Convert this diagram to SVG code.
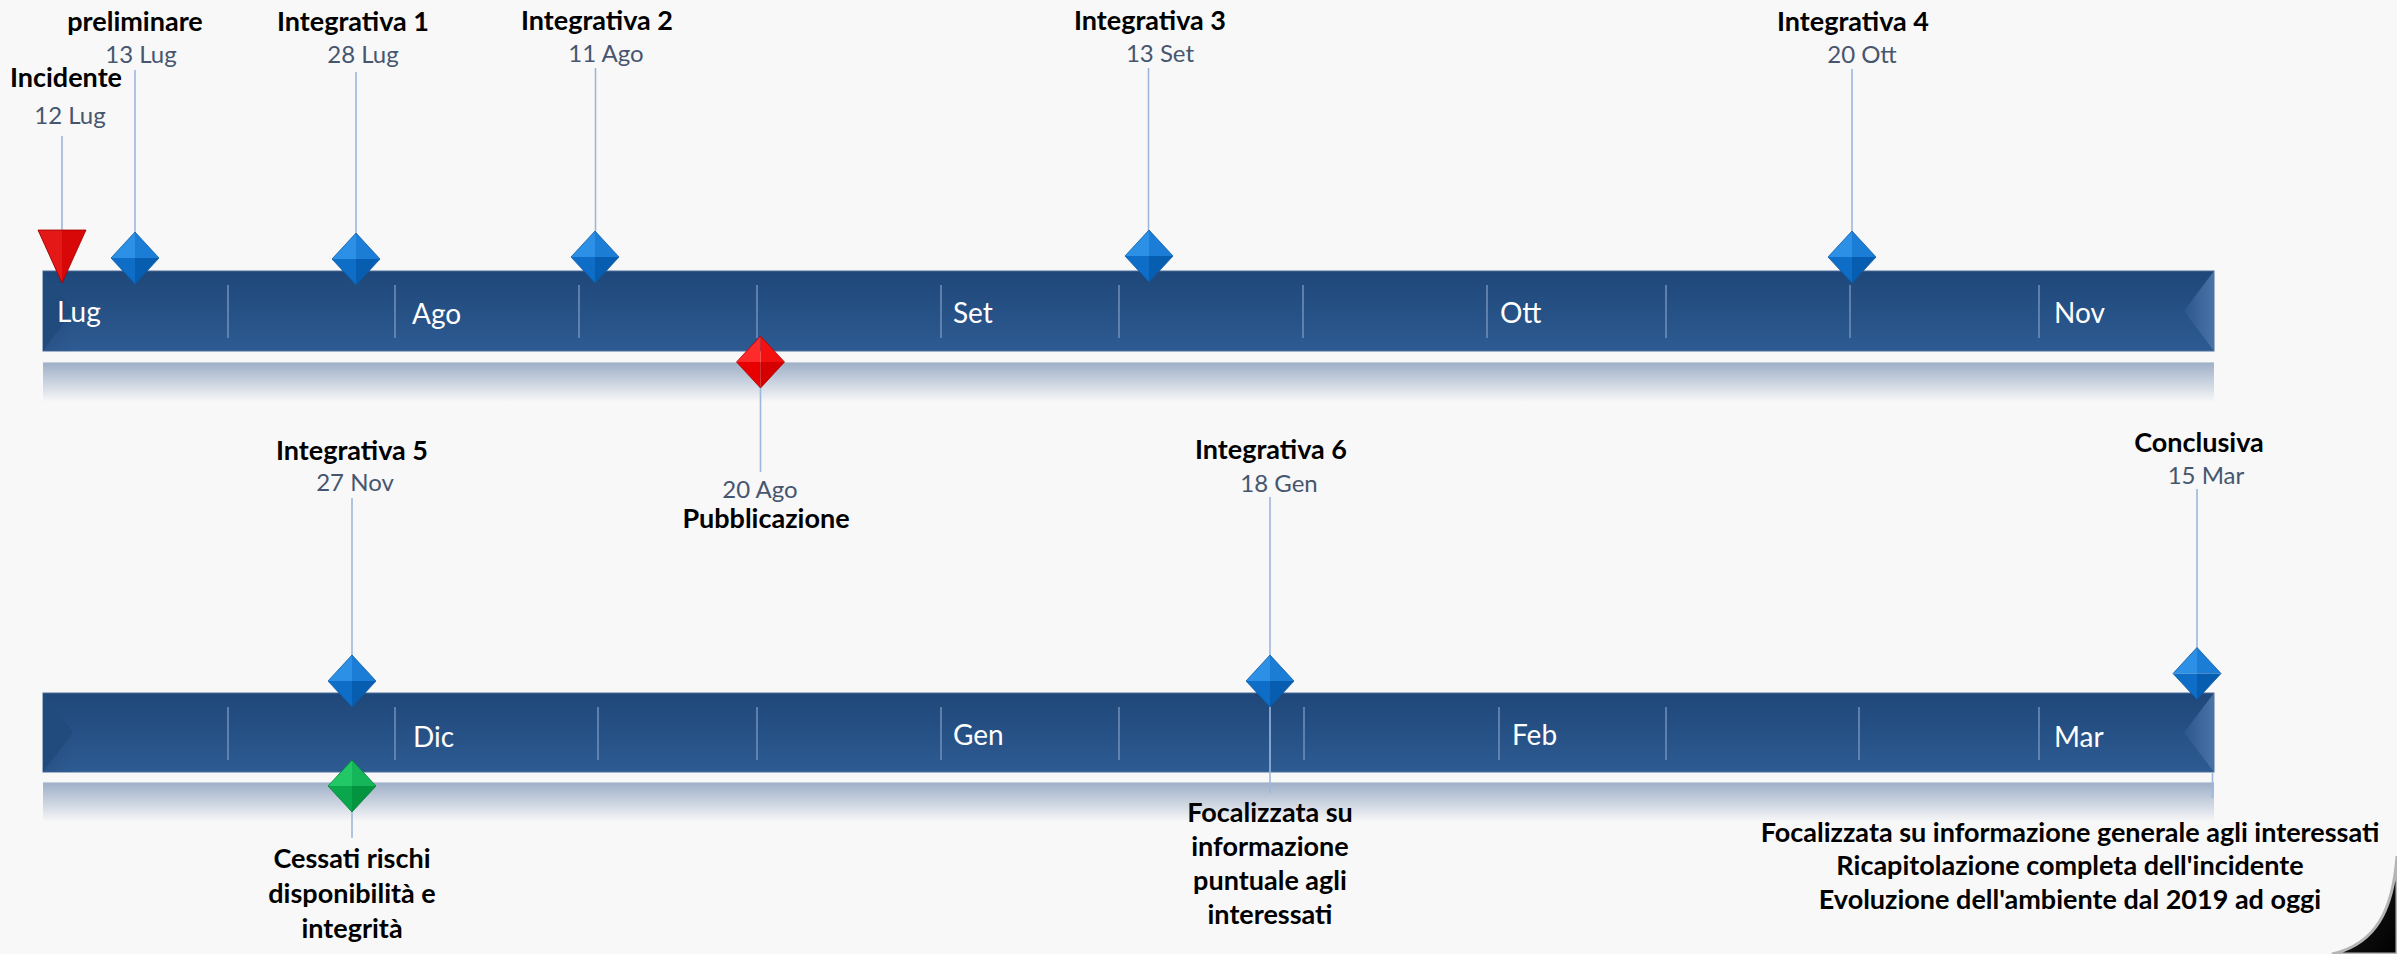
<svg xmlns="http://www.w3.org/2000/svg" width="2397" height="954" viewBox="0 0 2397 954">
<defs>
<style>
.t{font-family:Lato,"Liberation Sans",sans-serif;font-weight:bold;font-size:27px;fill:#000;text-anchor:middle}
.d{font-family:Lato,"Liberation Sans",sans-serif;font-size:24px;fill:#46566F;text-anchor:middle}
.m{font-family:Lato,"Liberation Sans",sans-serif;font-size:28px;fill:#FFFFFF}
.c{stroke:#9DB7DB;stroke-width:1.6;fill:none}
.tick{stroke:#6F8DB6;stroke-width:1.6}
</style>
<linearGradient id="bar" x1="0" y1="0" x2="0" y2="1">
<stop offset="0" stop-color="#1F4779"/><stop offset="1" stop-color="#2D5B92"/>
</linearGradient>
<linearGradient id="refl" x1="0" y1="0" x2="0" y2="1">
<stop offset="0" stop-color="#9DAEC6"/><stop offset="0.5" stop-color="#C9D2DF"/><stop offset="1" stop-color="#F8F8F8"/>
</linearGradient>
<linearGradient id="rend" x1="0" y1="0" x2="1" y2="0">
<stop offset="0" stop-color="#2B578E"/><stop offset="1" stop-color="#4A73A8"/>
</linearGradient>
<linearGradient id="lend" x1="0" y1="0" x2="1" y2="1">
<stop offset="0" stop-color="#1E4577"/><stop offset="1" stop-color="#2E5B91"/>
</linearGradient>
<linearGradient id="corner" x1="0" y1="0" x2="1" y2="1">
<stop offset="0" stop-color="#3A3A3A"/><stop offset="0.4" stop-color="#151515"/><stop offset="1" stop-color="#000"/>
</linearGradient>
<g id="bd">
<polygon points="0,-26 -24,0 0,0" fill="#2C90E6"/>
<polygon points="0,-26 24,0 0,0" fill="#1B7DD6"/>
<polygon points="-24,0 0,26 0,0" fill="#0E6DC6"/>
<polygon points="24,0 0,26 0,0" fill="#075DAF"/>
<polygon points="0,-26 24,0 0,26 -24,0" fill="none" stroke="#0B5AA5" stroke-width="0.8"/>
</g>
<g id="rd">
<polygon points="0,-26 -24,0 0,0" fill="#FF2A2A"/>
<polygon points="0,-26 24,0 0,0" fill="#F31010"/>
<polygon points="-24,0 0,26 0,0" fill="#E80000"/>
<polygon points="24,0 0,26 0,0" fill="#D40000"/>
<polygon points="0,-26 24,0 0,26 -24,0" fill="none" stroke="#B00000" stroke-width="0.8"/>
</g>
<g id="gd">
<polygon points="0,-26 -24,0 0,0" fill="#22C866"/>
<polygon points="0,-26 24,0 0,0" fill="#14B659"/>
<polygon points="-24,0 0,26 0,0" fill="#0AA64C"/>
<polygon points="24,0 0,26 0,0" fill="#039440"/>
<polygon points="0,-26 24,0 0,26 -24,0" fill="none" stroke="#047F37" stroke-width="0.8"/>
</g>
</defs>
<rect x="0" y="0" width="2397" height="954" fill="#F8F8F8"/>

<g id="timeline-top">
<rect x="43" y="362" width="2171" height="40" fill="url(#refl)"/>
<line x1="43" y1="362.5" x2="2214" y2="362.5" stroke="#C5CFDC" stroke-width="1"/>
<rect x="43" y="271" width="2171" height="80" fill="url(#bar)" stroke="#4B6C9A" stroke-width="1"/>
<polygon points="43,271 73,311 43,351" fill="#214A7D"/>
<polygon points="43,351 73,311 73,351" fill="url(#lend)" opacity="0.6"/>
<polygon points="2214,271 2184,311 2214,351" fill="url(#rend)"/>
<g class="tick">
<line x1="228" y1="285" x2="228" y2="338"/><line x1="395" y1="285" x2="395" y2="338"/>
<line x1="579" y1="285" x2="579" y2="338"/><line x1="757" y1="285" x2="757" y2="338"/>
<line x1="941" y1="285" x2="941" y2="338"/><line x1="1119" y1="285" x2="1119" y2="338"/>
<line x1="1303" y1="285" x2="1303" y2="338"/><line x1="1487" y1="285" x2="1487" y2="338"/>
<line x1="1666" y1="285" x2="1666" y2="338"/><line x1="1850" y1="285" x2="1850" y2="338"/>
<line x1="2039" y1="285" x2="2039" y2="338"/>
</g>
<text class="m" x="57" y="322">Lug</text>
<text class="m" x="412" y="324">Ago</text>
<text class="m" x="953" y="323">Set</text>
<text class="m" x="1500" y="323">Ott</text>
<text class="m" x="2054" y="323">Nov</text>
</g>

<g id="timeline-bottom">
<rect x="43" y="782" width="2171" height="40" fill="url(#refl)"/>
<line x1="43" y1="782.5" x2="2214" y2="782.5" stroke="#C5CFDC" stroke-width="1"/>
<rect x="43" y="693" width="2171" height="79" fill="url(#bar)" stroke="#4B6C9A" stroke-width="1"/>
<polygon points="43,693 73,732.5 43,772" fill="#214A7D"/>
<polygon points="43,772 73,732.5 73,772" fill="url(#lend)" opacity="0.6"/>
<polygon points="2214,693 2184,732.5 2214,772" fill="url(#rend)"/>
<g class="tick">
<line x1="228" y1="707" x2="228" y2="760"/><line x1="395" y1="707" x2="395" y2="760"/>
<line x1="598" y1="707" x2="598" y2="760"/><line x1="757" y1="707" x2="757" y2="760"/>
<line x1="941" y1="707" x2="941" y2="760"/><line x1="1119" y1="707" x2="1119" y2="760"/>
<line x1="1304" y1="707" x2="1304" y2="760"/><line x1="1499" y1="707" x2="1499" y2="760"/>
<line x1="1666" y1="707" x2="1666" y2="760"/><line x1="1859" y1="707" x2="1859" y2="760"/>
<line x1="2039" y1="707" x2="2039" y2="760"/>
</g>
<text class="m" x="413" y="747">Dic</text>
<text class="m" x="953" y="745">Gen</text>
<text class="m" x="1512" y="745">Feb</text>
<text class="m" x="2054" y="747">Mar</text>
</g>

<g id="connectors">
<line class="c" x1="62" y1="136" x2="62" y2="232"/>
<line class="c" x1="135" y1="70" x2="135" y2="234"/>
<line class="c" x1="356" y1="72" x2="356" y2="235"/>
<line class="c" x1="595.5" y1="68" x2="595.5" y2="232"/>
<line class="c" x1="1148.5" y1="68" x2="1148.5" y2="231"/>
<line class="c" x1="1852" y1="69" x2="1852" y2="233"/>
<line class="c" x1="760.5" y1="386" x2="760.5" y2="472"/>
<line class="c" x1="352" y1="498" x2="352" y2="657"/>
<line class="c" x1="352" y1="810" x2="352" y2="838"/>
<line class="c" x1="1270" y1="497" x2="1270" y2="657"/>
<line class="c" x1="1270" y1="705" x2="1270" y2="793"/>
<line class="c" x1="2197" y1="489" x2="2197" y2="650"/>
<line class="c" x1="2212.5" y1="772" x2="2212.5" y2="798"/>
</g>

<g id="incidente">
<polygon points="38,230 86,230 62,283" fill="#D80808"/>
<polygon points="38,230 62,230 62,283" fill="#E51818"/>
<polygon points="38,230 86,230 62,283" fill="none" stroke="#A00000" stroke-width="0.8"/>
<text class="t" x="66" y="87">Incidente</text>
<text class="d" x="70" y="124">12 Lug</text>
</g>

<g id="preliminare">
<use href="#bd" x="135" y="258"/>
<text class="t" x="135" y="31">preliminare</text>
<text class="d" x="141" y="63">13 Lug</text>
</g>

<g id="integrativa1">
<use href="#bd" x="356" y="259"/>
<text class="t" x="353" y="31">Integrativa 1</text>
<text class="d" x="363" y="63">28 Lug</text>
</g>

<g id="integrativa2">
<use href="#bd" x="595" y="257"/>
<text class="t" x="597" y="30">Integrativa 2</text>
<text class="d" x="606" y="62">11 Ago</text>
</g>

<g id="integrativa3">
<use href="#bd" x="1149" y="256"/>
<text class="t" x="1150" y="30">Integrativa 3</text>
<text class="d" x="1160" y="62">13 Set</text>
</g>

<g id="integrativa4">
<use href="#bd" x="1852" y="257"/>
<text class="t" x="1853" y="31">Integrativa 4</text>
<text class="d" x="1862" y="63">20 Ott</text>
</g>

<g id="pubblicazione">
<use href="#rd" x="760.5" y="362"/>
<text class="d" x="760" y="498">20 Ago</text>
<text class="t" x="766" y="528">Pubblicazione</text>
</g>

<g id="integrativa5">
<use href="#bd" x="352" y="681"/>
<text class="t" x="352" y="460">Integrativa 5</text>
<text class="d" x="355" y="491">27 Nov</text>
</g>

<g id="cessati">
<use href="#gd" x="352" y="786"/>
<text class="t" x="352" y="868">Cessati rischi</text>
<text class="t" x="352" y="903">disponibilità e</text>
<text class="t" x="352" y="938">integrità</text>
</g>

<g id="integrativa6">
<use href="#bd" x="1270" y="681"/>
<text class="t" x="1271" y="459">Integrativa 6</text>
<text class="d" x="1279" y="492">18 Gen</text>
<text class="t" x="1270" y="822">Focalizzata su</text>
<text class="t" x="1270" y="856">informazione</text>
<text class="t" x="1270" y="890">puntuale agli</text>
<text class="t" x="1270" y="924">interessati</text>
</g>

<g id="conclusiva">
<use href="#bd" x="2197" y="673.5"/>
<text class="t" x="2199" y="452">Conclusiva</text>
<text class="d" x="2206" y="484">15 Mar</text>
<text class="t" x="2070" y="842">Focalizzata su informazione generale agli interessati</text>
<text class="t" x="2070" y="875">Ricapitolazione completa dell'incidente</text>
<text class="t" x="2070" y="909">Evoluzione dell'ambiente dal 2019 ad oggi</text>
</g>

<path d="M2397,856 C2393,910 2376,944 2332,954 L2397,954 Z" fill="url(#corner)" stroke="#B5B5B5" stroke-width="3"/>
</svg>
